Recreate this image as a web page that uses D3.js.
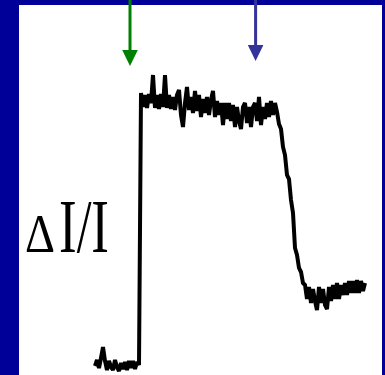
<!DOCTYPE html>
<html>
<head>
<meta charset="utf-8">
<script src="https://cdn.jsdelivr.net/npm/d3@7"></script>
<style>
  html, body { margin: 0; padding: 0; background: #000099; }
  svg { display: block; }
</style>
</head>
<body>
<svg id="chart" width="385" height="375"></svg>
<script>
// ---- data ----
// signal ΔI/I in arbitrary units, sampled evenly
const signal = [
  // baseline before stimulus
  -1, 5, -3, 7, 18, 4, -5, 4, -2, -5, 5, -2, -6, 2, -4, 3, -5, 4, -3, 4, -4, 3, 0,
  // plateau during stimulus
  272, 258, 270, 257, 271, 262, 290, 257, 270, 256, 271, 258, 290, 257, 270, 256, 268, 255, 270, 275,
  250, 238, 262, 278, 255, 268, 252, 274, 254, 270, 248, 266, 252, 268, 250, 265, 274, 248, 264, 250,
  262, 240, 262, 246, 262, 244, 260, 238, 258, 244, 236, 258, 262, 242, 258, 238, 258, 262, 244, 268,
  240, 258, 246, 262, 248, 264, 250, 262,
  // decay after stimulus off
  253, 241, 236, 218, 210, 190, 186, 165, 152, 117, 110, 97, 93, 82,
  // residual level
  80, 66, 78, 62, 76, 64, 55, 78, 62, 76, 60, 56, 78, 64, 80, 66, 82, 66, 80, 70,
  82, 70, 84, 72, 84, 72, 85, 72, 84, 74, 82
];
const samples = d3.range(signal.length);      // sample index (time)
const markerTimes = [17.5, 80.3];              // stimulus on / off
const markerColors = ["#008000", "#333399"];
const axisLabel = ["Δ", "I/I"];

// ---- layout ----
const svg = d3.select("#chart");
const W = 385, H = 375;

svg.append("rect").attr("x", 0).attr("y", 0).attr("width", W).attr("height", H).attr("fill", "#000099");
svg.append("rect").attr("x", 19).attr("y", 5).attr("width", 363).attr("height", H - 5).attr("fill", "#ffffff");

const x = d3.scaleLinear().domain([0, signal.length - 1]).range([95, 365]);
const y = d3.scaleLinear().domain([0, 265]).range([365, 100]);

// trace
const line = d3.line()
  .x((d, i) => x(samples[i]))
  .y(d => y(d));

svg.append("path")
  .datum(signal)
  .attr("d", line)
  .attr("fill", "none")
  .attr("stroke", "#000000")
  .attr("stroke-width", 4)
  .attr("stroke-linejoin", "miter")
  .attr("stroke-miterlimit", 2)
  .attr("stroke-linecap", "butt");

// stimulus arrows
const tipY = [66, 61];
markerTimes.forEach((t, k) => {
  const cx = x(t);
  const g = svg.append("g");
  g.append("line")
    .attr("x1", cx).attr("x2", cx)
    .attr("y1", 0).attr("y2", tipY[k] - 13)
    .attr("stroke", markerColors[k])
    .attr("stroke-width", 3);
  g.append("path")
    .attr("d", `M${cx - 7.8},${tipY[k] - 16} L${cx + 7.8},${tipY[k] - 16} L${cx},${tipY[k]} Z`)
    .attr("fill", markerColors[k]);
});

// axis label  ΔI/I
svg.append("text")
  .attr("x", 25).attr("y", 252)
  .attr("font-family", "Liberation Serif, Times New Roman, serif")
  .attr("font-size", 54)
  .attr("textLength", 30)
  .attr("lengthAdjust", "spacingAndGlyphs")
  .attr("fill", "#000")
  .text(axisLabel[0]);
svg.append("text")
  .attr("x", 59).attr("y", 252)
  .attr("font-family", "Liberation Serif, Times New Roman, serif")
  .attr("font-size", 76)
  .attr("textLength", 50)
  .attr("lengthAdjust", "spacingAndGlyphs")
  .attr("fill", "#000")
  .text(axisLabel[1]);
</script>
</body>
</html>
